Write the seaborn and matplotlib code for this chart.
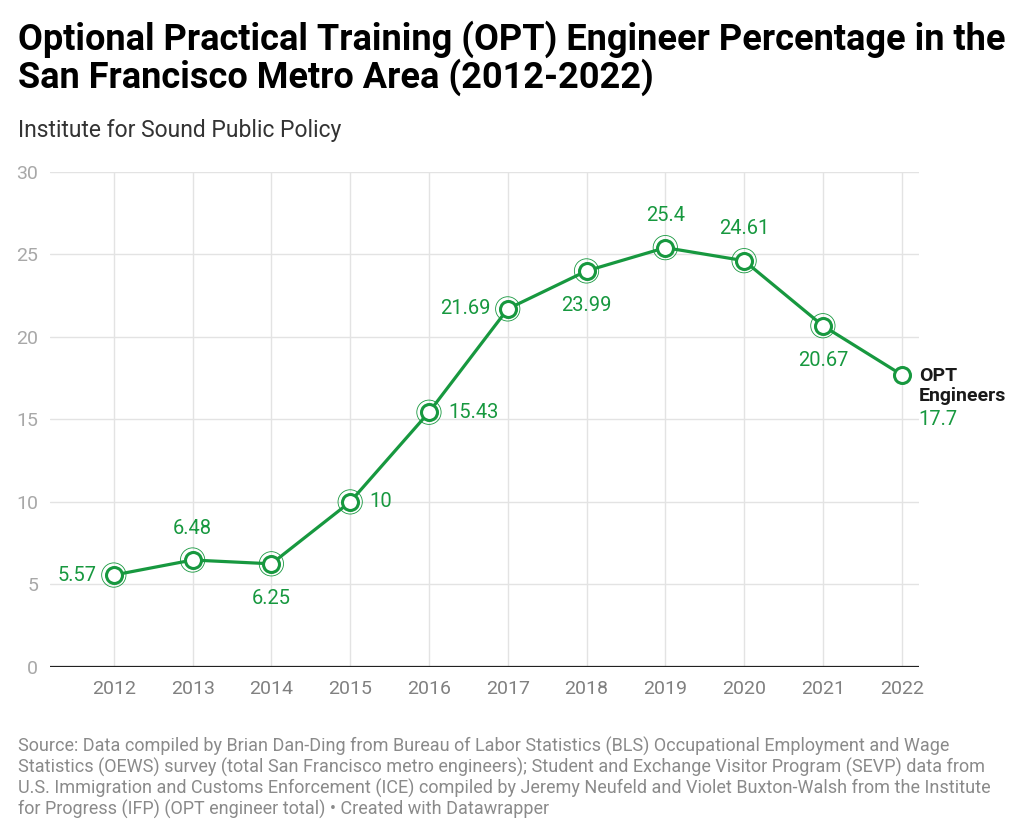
import matplotlib
matplotlib.use("Agg")
import matplotlib.pyplot as plt
import seaborn as sns
import pandas as pd

years = [2012, 2013, 2014, 2015, 2016, 2017, 2018, 2019, 2020, 2021, 2022]
values = [5.57, 6.48, 6.25, 10, 15.43, 21.69, 23.99, 25.4, 24.61, 20.67, 17.7]
labels = ["5.57", "6.48", "6.25", "10", "15.43", "21.69", "23.99", "25.4", "24.61", "20.67", "17.7"]
# label placement: l=left, a=above, b=below, r=right
placement = ["l", "a", "b", "r", "r", "l", "b", "a", "a", "b", "end"]
yticks = [0, 5, 10, 15, 20, 25, 30]
series_name = "OPT\nEngineers"

title_lines = ["Optional Practical Training (OPT) Engineer Percentage in the",
               "San Francisco Metro Area (2012-2022)"]
subtitle = "Institute for Sound Public Policy"
source_lines = [
    "Source: Data compiled by Brian Dan-Ding from Bureau of Labor Statistics (BLS) Occupational Employment and Wage",
    "Statistics (OEWS) survey (total San Francisco metro engineers); Student and Exchange Visitor Program (SEVP) data from",
    "U.S. Immigration and Customs Enforcement (ICE) compiled by Jeremy Neufeld and Violet Buxton-Walsh from the Institute",
    "for Progress (IFP) (OPT engineer total) \u2022 Created with Datawrapper",
]

GREEN = "#17983f"

sns.set_theme(style="white")
plt.rcParams["font.family"] = ["Roboto", "DejaVu Sans"]

df = pd.DataFrame({"year": years, "value": values})

W, H = 1024, 836
fig = plt.figure(figsize=(W / 100, H / 100), dpi=100)
ax = fig.add_axes([50 / W, 1 - 667 / H, (919 - 50) / W, (667 - 171.7) / H])

ax.set_xlim(2011.19, 2022.22)
ax.set_ylim(0, 30)

# grid
for y in yticks:
    if y == 0:
        continue
    ax.axhline(y, color="#e3e3e3", lw=1.0, zorder=0)
for x in years:
    ax.axvline(x, color="#e3e3e3", lw=1.0, zorder=0)
ax.axhline(0, color="#222222", lw=1.6, zorder=1)

sns.lineplot(data=df, x="year", y="value", ax=ax, color=GREEN, lw=2.3,
             marker="o", markersize=11.5, markerfacecolor="white",
             markeredgecolor=GREEN, markeredgewidth=2.2, clip_on=False, zorder=3)
# outer rings
ax.scatter(years[:-1], values[:-1], s=17.5**2, facecolors="none",
           edgecolors=GREEN, linewidths=0.6, zorder=4, clip_on=False)

for s in ax.spines.values():
    s.set_visible(False)

ax.set_yticks(yticks)
ax.set_yticklabels([str(t) for t in yticks])
ax.set_xticks(years)
ax.set_xticklabels([str(y) for y in years])
ax.tick_params(axis="y", length=0, pad=8.5, labelsize=14, labelcolor="#a8a8a8")
ax.tick_params(axis="x", length=0, pad=9, labelsize=14, labelcolor="#808080")
ax.set_xlabel("")
ax.set_ylabel("")

px = 0.72
for x, v, lab, p in zip(years, values, labels, placement):
    if p == "l":
        off, ha, va = (-17 * px, 0), "right", "center"
    elif p == "r":
        off, ha, va = (19 * px, 0), "left", "center"
    elif p == "a":
        off, ha, va = (0, 32 * px), "center", "center"
    elif p == "b":
        off, ha, va = (0, -35 * px), "center", "center"
    else:
        off, ha, va = (17 * px, -45 * px), "left", "center"
    ax.annotate(lab, (x, v), xytext=off, textcoords="offset points",
                ha=ha, va=va, fontsize=14.5, color=GREEN, zorder=5)

ax.annotate(series_name, (years[-1], values[-1]), xytext=(17 * px, -11 * px),
            textcoords="offset points", ha="left", va="center",
            fontsize=14, fontweight="bold", color="#1a1a1a", linespacing=1.15)

for i, line in enumerate(title_lines):
    fig.text(18 / W, 1 - (50 + 38 * i) / H, line, fontsize=26, fontweight="bold",
             color="#000000", ha="left", va="baseline")
fig.text(18 / W, 1 - 137 / H, subtitle, fontsize=16.5, color="#333333",
         ha="left", va="baseline")
for i, line in enumerate(source_lines):
    fig.text(18 / W, 1 - (752 + 21 * i) / H, line, fontsize=13,
             color="#8a8a8a", ha="left", va="baseline")

fig.savefig("out.png", dpi=100)
